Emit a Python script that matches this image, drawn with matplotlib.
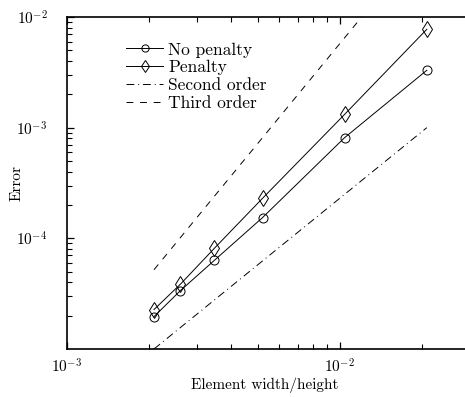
import numpy as np
import matplotlib
matplotlib.use("Agg")
import matplotlib.pyplot as plt
from matplotlib.ticker import NullFormatter

plt.rcParams['font.family'] = 'serif'
plt.rcParams['font.serif'] = ['cmr10']
plt.rcParams['mathtext.fontset'] = 'cm'
plt.rcParams['axes.formatter.use_mathtext'] = True

# element size h = 1/N
h = np.array([1/480, 1/384, 1/288, 1/192, 1/96, 1/48])
err_no_penalty = np.array([1.96e-5, 3.37e-5, 6.34e-5, 1.54e-4, 8.13e-4, 3.30e-3])
err_penalty = np.array([2.27e-5, 3.85e-5, 8.15e-5, 2.30e-4, 1.32e-3, 7.74e-3])

# reference slopes
h_ref = np.array([1/480, 1/48])
second_order = np.array([1.0e-5, 1.0e-3])
third_order = np.array([5.2e-5, 5.2e-2])

fig = plt.figure(figsize=(4.65, 3.97), dpi=100)
ax = fig.add_axes([67/465, 48/397, 403/465, 332/397])

ax.loglog(h, err_no_penalty, '-', color='black', lw=0.7, marker='o', ms=6.5,
          mfc='none', mec='black', mew=0.7, label='No penalty')
ax.loglog(h, err_penalty, '-', color='black', lw=0.7, marker='d', ms=8,
          mfc='none', mec='black', mew=0.7, label='Penalty')
ax.loglog(h_ref, second_order, color='black', lw=0.7,
          dashes=(8, 4, 1, 4), label='Second order')
ax.loglog(h_ref, third_order, color='black', lw=0.7,
          dashes=(7, 7), label='Third order')

ax.set_xlim(1e-3, 3e-2)
ax.set_ylim(1.0e-5, 1e-2)
ax.set_xticks([1e-3, 1e-2])
ax.set_yticks([1e-4, 1e-3, 1e-2])

# minor ticks at 2..9 of each decade
subs = np.arange(2, 10)
ax.set_xticks(np.concatenate([subs * 1e-3, subs[:2] * 1e-2]), minor=True)
ax.set_yticks(np.concatenate([subs * 1e-5, subs * 1e-4, subs * 1e-3]), minor=True)
ax.xaxis.set_minor_formatter(NullFormatter())
ax.yaxis.set_minor_formatter(NullFormatter())

ax.tick_params(which='both', direction='in', top=True, right=False, labelsize=11)
ax.tick_params(axis='x', which='major', pad=6)
ax.tick_params(axis='y', which='major', pad=14)
ax.tick_params(which='major', length=5, width=0.9)
ax.tick_params(which='minor', length=3.5, width=0.8)
for s in ax.spines.values():
    s.set_linewidth(1.2)

ax.set_xlabel('Element width/height', fontsize=11)
ax.set_ylabel('Error', fontsize=11)
ax.xaxis.set_label_coords(0.49, -0.085)
ax.yaxis.set_label_coords(-0.107, 0.5)

ax.legend(loc='upper left', bbox_to_anchor=(0.13, 0.945), frameon=False,
          fontsize=12.5, handlelength=2.1, handletextpad=0.3, labelspacing=0.14,
          borderaxespad=0, markerscale=0.8)

fig.savefig('out.png', dpi=100)
